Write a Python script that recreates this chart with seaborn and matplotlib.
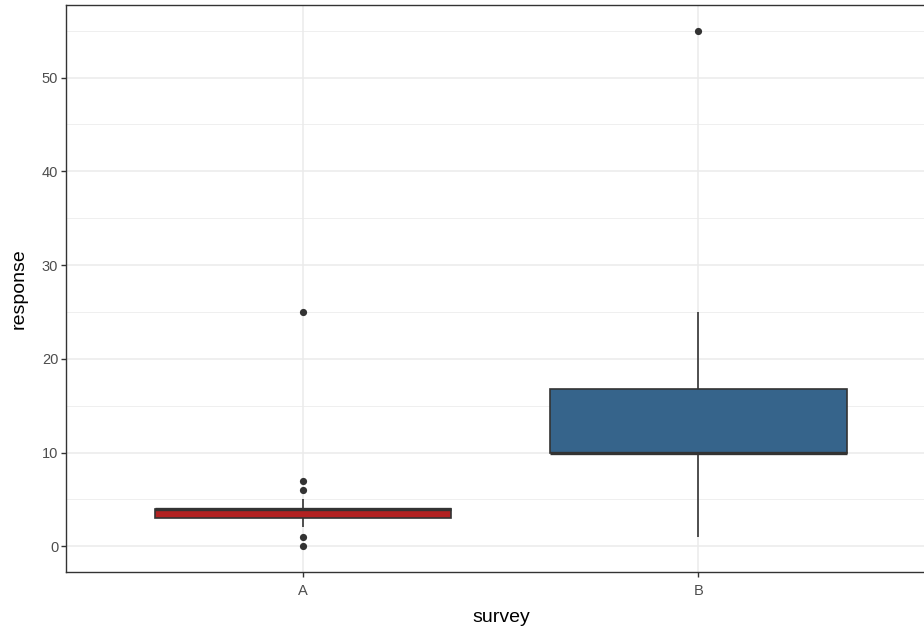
import numpy as np
import pandas as pd
import matplotlib
matplotlib.use("Agg")
import matplotlib.pyplot as plt
from matplotlib.ticker import MultipleLocator
import seaborn as sns

# survey responses per group
survey_a = [0, 1, 2, 3, 3, 3, 3, 3, 4, 4, 4, 4, 4, 4, 4, 4, 5, 6, 7, 25]
survey_b = [1, 10, 10, 10, 10, 10, 16, 17, 25, 55]
categories = ["A", "B"]
fill_colors = {"A": "#B22222", "B": "#36648B"}

df = pd.DataFrame({
    "survey": ["A"] * len(survey_a) + ["B"] * len(survey_b),
    "response": survey_a + survey_b,
})

sns.set_theme(style="white")
plt.rcParams["font.family"] = ["Liberation Sans", "DejaVu Sans"]

W, H = 924, 629
fig = plt.figure(figsize=(W / 100, H / 100), dpi=100)
# panel spans slightly past the right edge of the canvas
left, right, top, bottom = 66, 935.6, 5, 572
ax = fig.add_axes([left / W, 1 - bottom / H, (right - left) / W, (bottom - top) / H])

edge = "#333333"
sns.boxplot(
    data=df, x="survey", y="response", hue="survey", order=categories,
    palette=fill_colors, saturation=1, legend=False, width=0.75, ax=ax, whis=1.5,
    linewidth=1.2, linecolor=edge,
    boxprops=dict(edgecolor=edge, zorder=3),
    whiskerprops=dict(color=edge, linewidth=1.2, zorder=3),
    capprops=dict(linewidth=0),
    medianprops=dict(color=edge, linewidth=2.4, zorder=4),
    flierprops=dict(marker="o", markersize=5.2, markerfacecolor=edge,
                    markeredgecolor=edge, markeredgewidth=0, zorder=4),
)

ax.set_xlim(-0.6, 1.6)
ax.set_ylim(-2.75, 57.75)
ax.yaxis.set_major_locator(MultipleLocator(10))
ax.yaxis.set_minor_locator(MultipleLocator(5))

ax.set_facecolor("white")
ax.grid(True, which="major", color="#EBEBEB", linewidth=1.1, zorder=0)
ax.grid(True, which="minor", axis="y", color="#EBEBEB", linewidth=0.55, zorder=0)
ax.set_axisbelow(True)
for s in ax.spines.values():
    s.set_color(edge)
    s.set_linewidth(1.0)
    s.set_visible(True)

ax.tick_params(axis="both", which="major", length=3.8, width=1.0, color=edge,
               labelcolor="#4D4D4D", labelsize=10.5, left=True, bottom=True)
ax.tick_params(axis="x", which="major", pad=4.5)
ax.tick_params(axis="y", which="major", pad=1.8)
ax.tick_params(axis="y", which="minor", length=0)

ax.set_xlabel("survey", fontsize=14, color="black", labelpad=8)
ax.set_ylabel("response", fontsize=14, color="black", labelpad=10)

fig.savefig("out.png", dpi=100)
